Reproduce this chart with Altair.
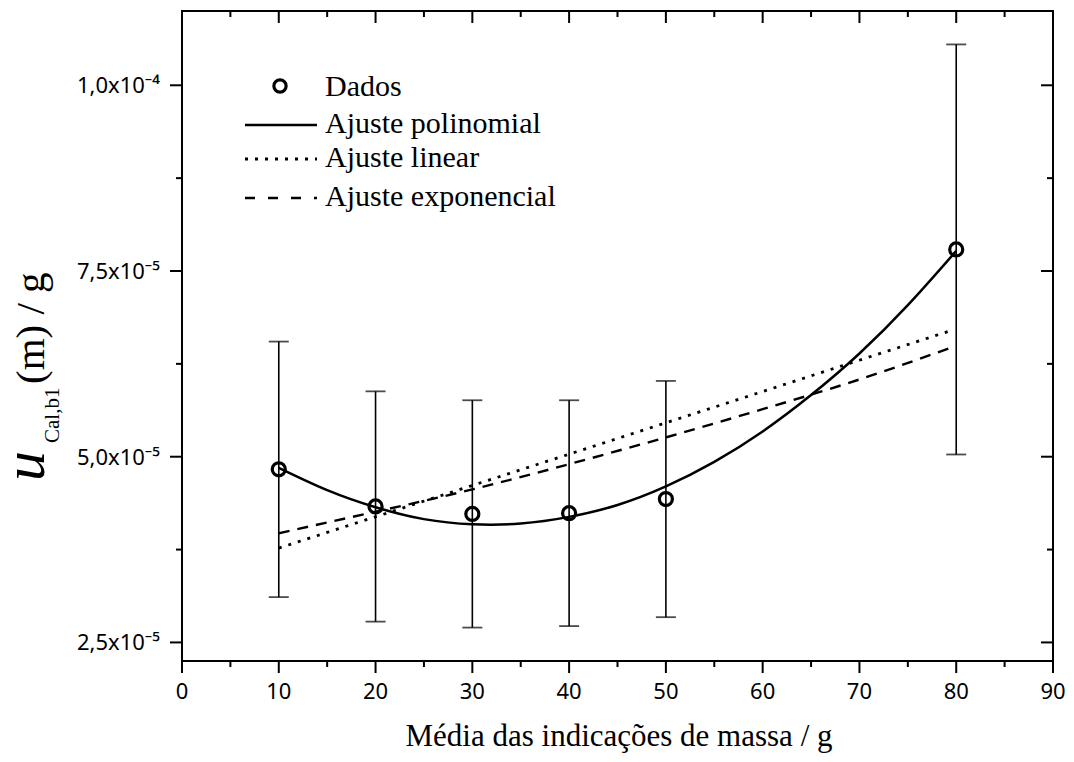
import altair as alt
import pandas as pd

# ---------------- data ----------------
x_data = [10, 20, 30, 40, 50, 80]
u_data = [4.83e-5, 4.33e-5, 4.23e-5, 4.24e-5, 4.43e-5, 7.79e-5]
u_err = [1.72e-5, 1.55e-5, 1.53e-5, 1.52e-5, 1.59e-5, 2.76e-5]

x_poly = [10, 15, 20, 25, 30, 35, 40, 45, 50, 55, 60, 65, 70, 75, 80]
u_poly = [4.85e-5, 4.55e-5, 4.32e-5, 4.16e-5, 4.09e-5, 4.10e-5, 4.19e-5, 4.35e-5,
          4.60e-5, 4.93e-5, 5.34e-5, 5.83e-5, 6.39e-5, 7.04e-5, 7.77e-5]

x_lin = [10, 79.5]
u_lin = [3.77e-5, 6.70e-5]

x_exp = [10, 20, 30, 40, 50, 60, 70, 79.5]
u_exp = [3.97e-5, 4.26e-5, 4.56e-5, 4.90e-5, 5.26e-5, 5.64e-5, 6.04e-5, 6.47e-5]

legend_labels = ["Dados", "Ajuste polinomial", "Ajuste linear", "Ajuste exponencial"]

x_ticks = [0, 10, 20, 30, 40, 50, 60, 70, 80, 90]
x_tick_labels = ["0", "10", "20", "30", "40", "50", "60", "70", "80", "90"]
x_minor = [5, 15, 25, 35, 45, 55, 65, 75, 85]
y_ticks = [2.5e-5, 5.0e-5, 7.5e-5, 1.0e-4]
y_tick_labels = ["2,5x10\u207b\u2075", "5,0x10\u207b\u2075", "7,5x10\u207b\u2075", "1,0x10\u207b\u2074"]
y_minor = [3.75e-5, 6.25e-5, 8.75e-5]

x_title = "Média das indicações de massa / g"
y_title_main = "u"
y_title_sub = "Cal,b1"
y_title_rest = "(m) / g"

# ---------------- chart ----------------
W, H = 871, 650
xs = alt.Scale(domain=[0, 90], nice=False)
ys = alt.Scale(domain=[2.25e-5, 1.1e-4], nice=False, zero=False)

df = pd.DataFrame({"x": x_data, "u": u_data, "e": u_err})
df["lo"] = df["u"] - df["e"]
df["hi"] = df["u"] + df["e"]


def X(f):
    return alt.X(f, scale=xs, axis=None)


def Y(f):
    return alt.Y(f, scale=ys, axis=None)


err = alt.Chart(df).mark_rule(color="black", strokeWidth=1.6).encode(
    x=X("x:Q"), y=Y("lo:Q"), y2="hi:Q")
cap_hi = alt.Chart(df).mark_tick(orient="horizontal", size=20, thickness=1.8, color="black").encode(
    x=X("x:Q"), y=Y("hi:Q"))
cap_lo = alt.Chart(df).mark_tick(orient="horizontal", size=20, thickness=1.8, color="black").encode(
    x=X("x:Q"), y=Y("lo:Q"))

pts = alt.Chart(df).mark_point(shape="circle", filled=False, size=170, strokeWidth=3.2,
                               color="black", opacity=1).encode(x=X("x:Q"), y=Y("u:Q"))

poly = alt.Chart(pd.DataFrame({"x": x_poly, "u": u_poly})).mark_line(
    color="black", strokeWidth=2.5, interpolate="natural").encode(x=X("x:Q"), y=Y("u:Q"))
lin = alt.Chart(pd.DataFrame({"x": x_lin, "u": u_lin})).mark_line(
    color="black", strokeWidth=2.8, strokeDash=[3, 7]).encode(x=X("x:Q"), y=Y("u:Q"))
expo = alt.Chart(pd.DataFrame({"x": x_exp, "u": u_exp})).mark_line(
    color="black", strokeWidth=2.4, strokeDash=[11, 8], interpolate="natural").encode(
    x=X("x:Q"), y=Y("u:Q"))


# ---- frame ticks ----
def yrule(vals, x0, x1):
    return alt.Chart(pd.DataFrame({"v": vals})).mark_rule(color="black", strokeWidth=2).encode(
        y=Y("v:Q"), x=alt.value(x0), x2=alt.value(x1))


def xrule(vals, y0, y1):
    return alt.Chart(pd.DataFrame({"v": vals})).mark_rule(color="black", strokeWidth=2).encode(
        x=X("v:Q"), y=alt.value(y0), y2=alt.value(y1))


ticks = [
    yrule(y_ticks, 0, -12),
    yrule(y_minor, 0, -6),
    yrule(y_ticks, W, W - 12),
    yrule(y_minor, W, W - 6),
    xrule(x_ticks, H, H + 12),
    xrule(x_minor, H, H + 6),
    xrule(x_ticks, 0, 12),
    xrule(x_minor, 0, 6),
]

# ---- tick labels ----
xlab = alt.Chart(pd.DataFrame({"v": x_ticks, "t": x_tick_labels})).mark_text(
    font="Noto Sans", fontSize=22, align="center", baseline="alphabetic", color="black").encode(
    x=X("v:Q"), y=alt.value(H + 38), text="t:N")
ylab = alt.Chart(pd.DataFrame({"v": y_ticks, "t": y_tick_labels})).mark_text(
    font="Noto Sans", fontSize=22, align="right", baseline="alphabetic", dy=8, color="black").encode(
    y=Y("v:Q"), x=alt.value(-22), text="t:N")


# ---- titles ----
def txt(s, x, y, size, angle=0, align="left", baseline="alphabetic", style="normal"):
    return alt.Chart(pd.DataFrame({"t": [s]})).mark_text(
        font="Liberation Serif", fontSize=size, angle=angle, align=align,
        baseline=baseline, fontStyle=style, color="black").encode(
        x=alt.value(x), y=alt.value(y), text="t:N")


titles = [
    txt(x_title, 437, 735, 31, align="center"),
    txt(y_title_main, -138, 470, 60, angle=270, style="italic"),
    txt(y_title_sub, -123, 432, 21, angle=270),
    txt(y_title_rest, -138, 373, 41, angle=270),
]

# ---- legend ----
one = pd.DataFrame({"k": [0]})
leg = [
    alt.Chart(one).mark_point(shape="circle", filled=False, size=150, strokeWidth=3.2,
                              color="black", opacity=1).encode(x=alt.value(98), y=alt.value(75)),
    alt.Chart(one).mark_rule(color="black", strokeWidth=2.5).encode(
        x=alt.value(63), x2=alt.value(135), y=alt.value(114)),
    alt.Chart(one).mark_rule(color="black", strokeWidth=2.8, strokeDash=[3, 7]).encode(
        x=alt.value(63), x2=alt.value(135), y=alt.value(148)),
    alt.Chart(one).mark_rule(color="black", strokeWidth=2.4, strokeDash=[10, 13]).encode(
        x=alt.value(63), x2=alt.value(135), y=alt.value(187)),
]
for lab, yy in zip(legend_labels, [76, 113, 147, 186]):
    leg.append(txt(lab, 143, yy, 30, baseline="middle"))

chart = alt.layer(err, cap_hi, cap_lo, poly, lin, expo, pts, *ticks, xlab, ylab,
                  *titles, *leg).properties(
    width=W, height=H,
    autosize=alt.AutoSizeParams(type="none"),
    padding={"left": 174, "top": 3, "right": 13, "bottom": 93},
    background="white",
).configure_view(stroke="black", strokeWidth=2)

chart.save("out.html", embed_options={"renderer": "svg", "actions": False})
